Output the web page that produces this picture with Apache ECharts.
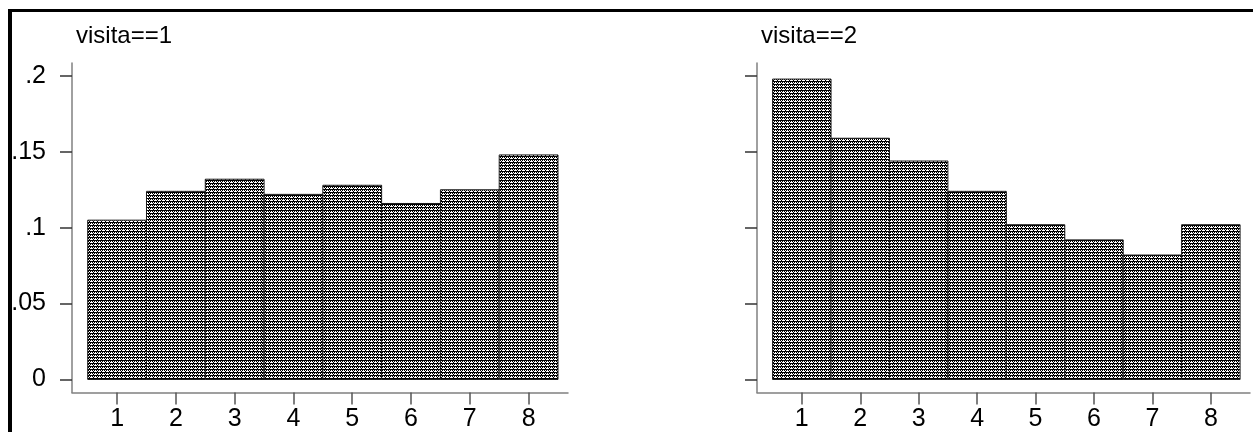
<!DOCTYPE html>
<html>
<head>
<meta charset="utf-8">
<script src="https://cdn.jsdelivr.net/npm/echarts@6/dist/echarts.min.js"></script>
<style>
html,body{margin:0;padding:0;background:#fff;}
#chart{width:1253px;height:432px;}
</style>
</head>
<body>
<div id="chart"></div>
<script>
// ---- data ----
const CATEGORIES = [1, 2, 3, 4, 5, 6, 7, 8];
const VISITA1 = [0.105, 0.124, 0.132, 0.122, 0.128, 0.116, 0.125, 0.148];
const VISITA2 = [0.198, 0.159, 0.144, 0.124, 0.102, 0.092, 0.082, 0.102];
const Y_TICKS = [0, 0.05, 0.1, 0.15, 0.2];
const Y_TICK_LABELS = ['0', '.05', '.1', '.15', '.2'];
const X_TICKS = [1, 2, 3, 4, 5, 6, 7, 8];
const PANEL_TITLES = ['visita==1', 'visita==2'];

// ---- fill pattern ----
function makePattern() {
  const c = document.createElement('canvas');
  c.width = 4; c.height = 3;
  const ctx = c.getContext('2d');
  ctx.fillStyle = '#fff'; ctx.fillRect(0, 0, 4, 3);
  ctx.fillStyle = '#000';
  ctx.fillRect(0, 0, 4, 1);
  ctx.fillRect(0, 1, 1, 1);
  ctx.fillRect(2, 1, 1, 1);
  ctx.fillRect(1, 2, 1, 1);
  return c;
}
const PATTERN = { image: makePattern(), repeat: 'repeat' };

const FONT = 'Liberation Sans, Arial, Helvetica, sans-serif';
const chart = echarts.init(document.getElementById('chart'), null, { renderer: 'canvas' });

function renderItem(params, api) {
  const x = api.value(0), v = api.value(1);
  const p0 = api.coord([x - 0.5, 0]);
  const p1 = api.coord([x + 0.5, v]);
  return {
    type: 'rect',
    shape: { x: p0[0], y: p1[1], width: p1[0] - p0[0], height: p0[1] - p1[1] },
    style: { fill: PATTERN, stroke: '#1a1a1a', lineWidth: 1 }
  };
}

const grids = [
  { left: 72, top: 63, width: 496, height: 329.5 },
  { left: 757, top: 63, width: 493, height: 329.5 }
];

function xAxis(i) {
  return {
    gridIndex: i, type: 'value', min: 0.233, max: 8.67,
    axisLine: { show: true, onZero: false, lineStyle: { color: '#808080', width: 1.5 } },
    axisTick: { show: true, length: 12, customValues: X_TICKS, lineStyle: { color: '#555', width: 1.5 } },
    axisLabel: { show: true, customValues: X_TICKS, margin: 14, color: '#000', fontSize: 25, fontFamily: FONT },
    splitLine: { show: false }
  };
}
function yAxis(i, showLabels) {
  return {
    gridIndex: i, type: 'value', min: -0.0086, max: 0.2086,
    axisLine: { show: true, onZero: false, lineStyle: { color: '#808080', width: 1.5 } },
    axisTick: { show: true, length: 12, customValues: Y_TICKS, lineStyle: { color: '#333', width: 1.5 } },
    axisLabel: {
      show: showLabels, customValues: Y_TICKS, margin: 26, color: '#000', fontSize: 25, fontFamily: FONT,
      formatter: function (val) {
        const idx = Y_TICKS.findIndex(t => Math.abs(t - val) < 1e-9);
        return idx >= 0 ? Y_TICK_LABELS[idx] : '';
      }
    },
    splitLine: { show: false }
  };
}

chart.setOption({
  animation: false,
  backgroundColor: '#fff',
  title: [
    { text: PANEL_TITLES[0], left: 71, top: 19, textStyle: { fontSize: 24, fontWeight: 'normal', color: '#000', fontFamily: FONT } },
    { text: PANEL_TITLES[1], left: 756, top: 19, textStyle: { fontSize: 24, fontWeight: 'normal', color: '#000', fontFamily: FONT } }
  ],
  grid: grids,
  xAxis: [xAxis(0), xAxis(1)],
  yAxis: [yAxis(0, true), yAxis(1, false)],
  series: [
    { type: 'custom', xAxisIndex: 0, yAxisIndex: 0, renderItem: renderItem, data: CATEGORIES.map((c, i) => [c, VISITA1[i]]) },
    { type: 'custom', xAxisIndex: 1, yAxisIndex: 1, renderItem: renderItem, data: CATEGORIES.map((c, i) => [c, VISITA2[i]]) }
  ],
  graphic: [
    { type: 'line', shape: { x1: 8, y1: 10.5, x2: 1253, y2: 10.5 }, style: { stroke: '#000', lineWidth: 3 }, z: 100 },
    { type: 'line', shape: { x1: 10, y1: 9, x2: 10, y2: 432 }, style: { stroke: '#000', lineWidth: 4 }, z: 100 }
  ]
});
</script>
</body>
</html>
